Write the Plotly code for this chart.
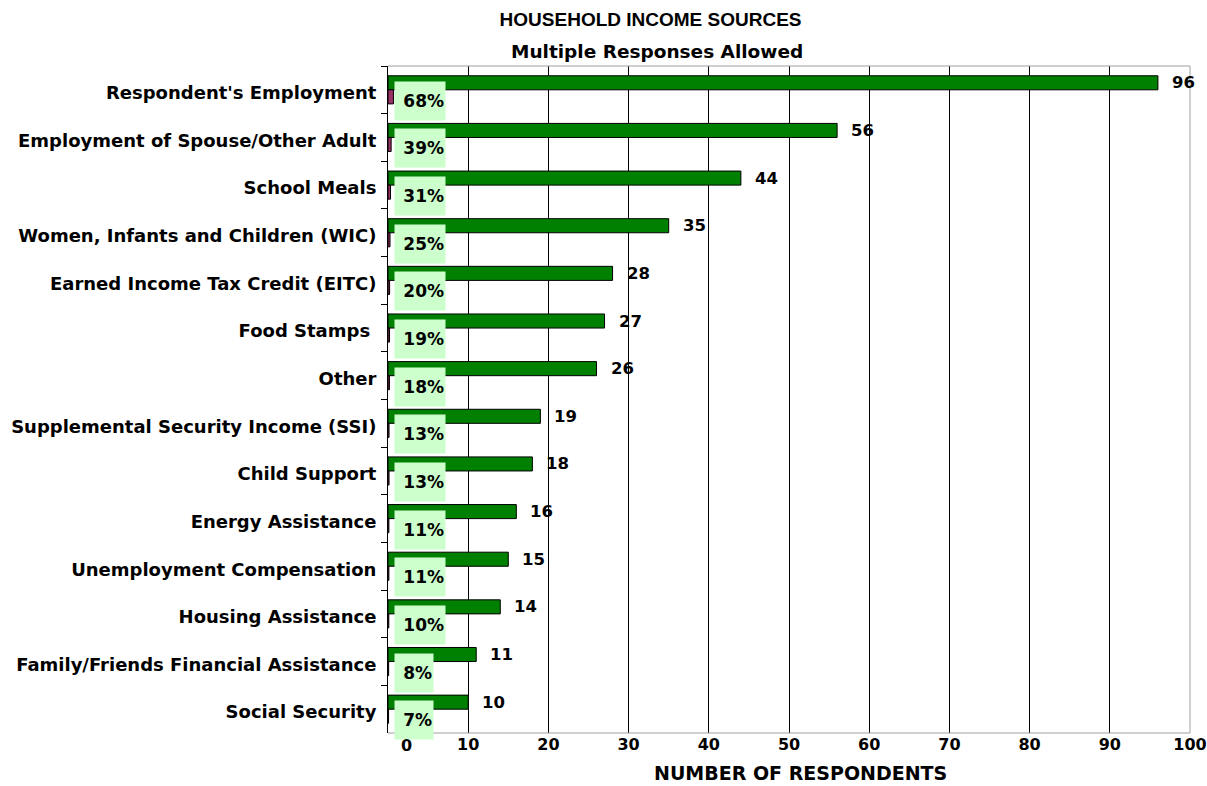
import plotly.graph_objects as go

# Income sources, listed top to bottom
categories = [
    "Respondent's Employment",
    "Employment of Spouse/Other Adult",
    "School Meals",
    "Women, Infants and Children (WIC)",
    "Earned Income Tax Credit (EITC)",
    "Food Stamps ",
    "Other",
    "Supplemental Security Income (SSI)",
    "Child Support",
    "Energy Assistance",
    "Unemployment Compensation",
    "Housing Assistance",
    "Family/Friends Financial Assistance",
    "Social Security",
]
respondents = [96, 56, 44, 35, 28, 27, 26, 19, 18, 16, 15, 14, 11, 10]
percent = [68, 39, 31, 25, 20, 19, 18, 13, 13, 11, 11, 10, 8, 7]
x_ticks = [0, 10, 20, 30, 40, 50, 60, 70, 80, 90, 100]

# percentage series is plotted as a fraction on the respondent scale
pct_fraction = [p / 100 for p in percent]

LABEL_FONT = "DejaVu Sans"
TITLE_FONT = "Liberation Sans, Arial"

fig = go.Figure()
fig.add_trace(go.Bar(
    y=categories, x=respondents, orientation="h",
    marker=dict(color="#008000", line=dict(color="#000000", width=1)),
    name="Respondents", hoverinfo="x+y",
))
fig.add_trace(go.Bar(
    y=categories, x=pct_fraction, orientation="h",
    marker=dict(color="#993366", line=dict(color="#000000", width=1)),
    name="Percent", hoverinfo="x+y",
))

annotations = []
# count labels just past the end of each green bar
for cat, v in zip(categories, respondents):
    annotations.append(dict(
        x=v, y=cat, xref="x", yref="y", text=str(v), showarrow=False,
        xanchor="left", yanchor="middle", xshift=12, yshift=7,
        font=dict(family=LABEL_FONT, size=16.5, color="#000000", weight="bold"),
    ))
# percentage labels in pale green boxes
for cat, p in zip(categories, percent):
    txt = f"{p}%"
    annotations.append(dict(
        x=0, y=cat, xref="x", yref="y", text=txt, showarrow=False,
        xanchor="left", yanchor="middle", xshift=6, yshift=-11,
        width=12 * len(txt) + 12, height=36, align="right", valign="middle",
        borderpad=1, bgcolor="#ccffcc",
        font=dict(family=LABEL_FONT, size=17, color="#000000", weight="bold"),
    ))
# zero tick label sits slightly right of the axis
annotations.append(dict(
    x=0, y=-0.019, xref="x", yref="paper", text="0", showarrow=False,
    xanchor="center", yanchor="middle", xshift=18,
    font=dict(family=LABEL_FONT, size=16, color="#000000", weight="bold"),
))
# subtitle
annotations.append(dict(
    x=0.335, y=1.021, xref="paper", yref="paper", text="Multiple Responses Allowed",
    showarrow=False, xanchor="center", yanchor="middle",
    font=dict(family=LABEL_FONT, size=18.5, color="#000000", weight="bold"),
))
# x-axis title
annotations.append(dict(
    x=0.514, y=-0.06, xref="paper", yref="paper", text="NUMBER OF RESPONDENTS",
    showarrow=False, xanchor="center", yanchor="middle",
    font=dict(family=LABEL_FONT, size=19, color="#000000", weight="bold"),
))

border = "#a0a0a0"
shapes = [
    dict(type="line", xref="paper", yref="paper", x0=0, x1=1, y0=1, y1=1,
         line=dict(color=border, width=1), layer="above"),
    dict(type="line", xref="paper", yref="paper", x0=1, x1=1, y0=0, y1=1,
         line=dict(color=border, width=1), layer="above"),
    dict(type="line", xref="paper", yref="paper", x0=0, x1=1, y0=0, y1=0,
         line=dict(color=border, width=1), layer="above"),
]

fig.update_layout(
    width=1207, height=786,
    margin=dict(l=388, r=17, t=66, b=53, autoexpand=False),
    paper_bgcolor="#ffffff", plot_bgcolor="#ffffff",
    barmode="group", bargap=0.41, bargroupgap=0,
    showlegend=False,
    title=dict(
        text="HOUSEHOLD INCOME SOURCES", x=0.539, y=0.975,
        xref="container", yref="container", xanchor="center", yanchor="middle",
        font=dict(family=TITLE_FONT, size=19, color="#000000", weight="bold"),
    ),
    xaxis=dict(
        range=[0, 100], tickvals=x_ticks,
        ticktext=[""] + [str(t) for t in x_ticks[1:]],
        showgrid=True, gridcolor="#000000", gridwidth=1,
        zeroline=False, showline=False, ticks="", automargin=False,
        tickfont=dict(family=LABEL_FONT, size=16, color="#000000", weight="bold"),
    ),
    yaxis=dict(
        categoryorder="array", categoryarray=categories,
        range=[len(categories) - 0.5, -0.5],
        showgrid=False, zeroline=False, automargin=False,
        showline=True, linecolor="#000000", linewidth=1,
        ticks="outside", ticklen=6, tickcolor="#000000", tickson="boundaries",
        ticklabelstandoff=7, ticklabelshift=-3,
        tickfont=dict(family=LABEL_FONT, size=18, color="#000000", weight="bold"),
    ),
    annotations=annotations,
    shapes=shapes,
)

fig.write_html("out.html")
